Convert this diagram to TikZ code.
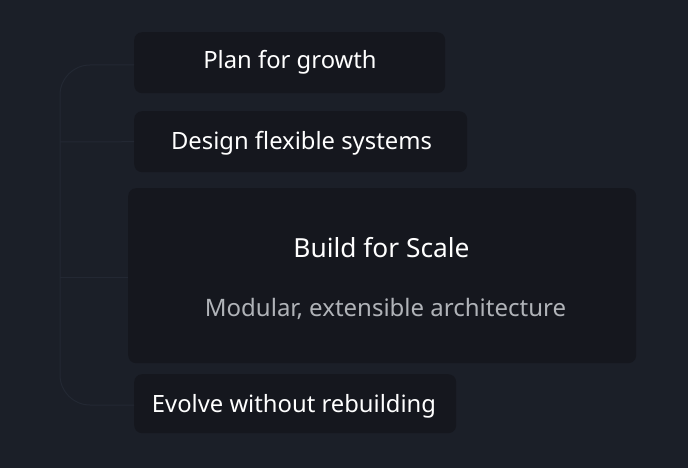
\documentclass[tikz,border=0pt]{standalone}
\usepackage{fontspec}
\setmainfont{Noto Sans}
\definecolor{bgc}{HTML}{1B1F28}
\definecolor{boxc}{HTML}{15171E}
\definecolor{linec}{HTML}{232833}
\definecolor{subc}{HTML}{B0B3B8}
\begin{document}
\begin{tikzpicture}[x=1pt,y=-1pt,
  card/.style={fill=boxc,rounded corners=8pt,anchor=north west,inner sep=0pt},
  lbl/.style={text=white,font=\fontsize{23.8}{28}\selectfont},
  tie/.style={draw=linec,line width=1pt}]
\fill[bgc] (0,0) rectangle (688,468);
\useasboundingbox (0,0) rectangle (688,468);
% cards
\node[card,minimum width=311pt,minimum height=61pt] (c1) at (134,32) {};
\node[card,minimum width=333pt,minimum height=61pt] (c2) at (134,111) {};
\node[card,minimum width=508pt,minimum height=175pt] (c3) at (128,188) {};
\node[card,minimum width=322pt,minimum height=59pt] (c4) at (134,374) {};
% labels
\node[lbl] (t1) at (290,62) {Plan for growth};
\node[lbl] (t2) at (301.5,143) {Design flexible systems};
\node[lbl] (t4) at (294,406) {Evolve without rebuilding};
\node[lbl,font=\fontsize{26.3}{31}\selectfont\bfseries] (t3) at (381.5,248) {Build for Scale};
\node[lbl,text=subc,font=\fontsize{24}{28}\selectfont] (s3) at (385.5,309) {Modular, extensible architecture};
% bracket
\coordinate (btop) at (c1.west |- 0,65);
\coordinate (bbot) at (c4.west |- 0,405);
\draw[tie,rounded corners=30pt] (btop) -- (60,65) -- (60,405) -- (bbot);
\coordinate (k2) at (60,142);
\coordinate (k3) at (60,277);
\draw[tie] (k2) -- (c2.west);
\draw[tie] (k3) -- (c3.west |- k3);
\end{tikzpicture}
\end{document}
